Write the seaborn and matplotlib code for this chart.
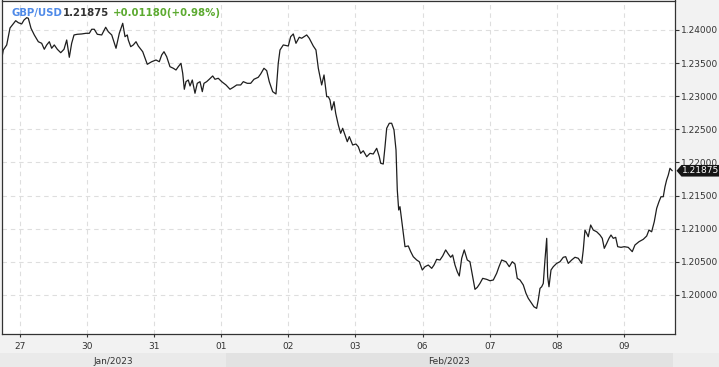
import numpy as np
import pandas as pd
import matplotlib
matplotlib.use("Agg")
import matplotlib.pyplot as plt
import seaborn as sns
from matplotlib.patches import Rectangle, Polygon
from matplotlib.transforms import blended_transform_factory, IdentityTransform

# ---------------- data ----------------
# position in trading days (0 = 27 Jan session, 1 = 30 Jan, ...)
day_pos = [
    -0.270, -0.249, -0.198, -0.149, -0.115, -0.064, -0.025, 0.025, 0.060, 0.100,
    0.124, 0.164, 0.213, 0.273, 0.323, 0.362, 0.398, 0.437, 0.472, 0.511,
    0.556, 0.607, 0.656, 0.696, 0.735, 0.770, 0.805, 0.854, 0.920, 0.984,
    1.033, 1.069, 1.107, 1.152, 1.218, 1.277, 1.316, 1.367, 1.431, 1.480,
    1.531, 1.565, 1.599, 1.614, 1.650, 1.688, 1.729, 1.763, 1.829, 1.897,
    1.963, 2.027, 2.076, 2.112, 2.146, 2.186, 2.235, 2.285, 2.325, 2.359,
    2.399, 2.425, 2.449, 2.474, 2.508, 2.534, 2.568, 2.608, 2.642, 2.683,
    2.717, 2.742, 2.782, 2.821, 2.872, 2.906, 2.955, 3.006, 3.070, 3.130,
    3.179, 3.230, 3.289, 3.328, 3.387, 3.438, 3.487, 3.551, 3.587, 3.636,
    3.677, 3.715, 3.766, 3.815, 3.849, 3.875, 3.924, 3.999, 4.034, 4.073,
    4.113, 4.162, 4.198, 4.273, 4.311, 4.371, 4.411, 4.446, 4.496, 4.531,
    4.571, 4.595, 4.620, 4.645, 4.680, 4.705, 4.744, 4.779, 4.809, 4.844,
    4.878, 4.908, 4.958, 5.007, 5.042, 5.077, 5.116, 5.167, 5.216, 5.265,
    5.316, 5.355, 5.376, 5.414, 5.440, 5.465, 5.504, 5.539, 5.574, 5.604,
    5.623, 5.644, 5.663, 5.703, 5.738, 5.787, 5.823, 5.861, 5.912, 5.951,
    5.996, 6.036, 6.085, 6.136, 6.170, 6.210, 6.259, 6.300, 6.344, 6.383,
    6.419, 6.448, 6.483, 6.517, 6.547, 6.583, 6.621, 6.666, 6.706, 6.747,
    6.781, 6.815, 6.855, 6.896, 6.955, 7.004, 7.054, 7.104, 7.139, 7.179,
    7.243, 7.292, 7.337, 7.377, 7.411, 7.452, 7.501, 7.541, 7.575, 7.626,
    7.660, 7.700, 7.724, 7.750, 7.775, 7.799, 7.824, 7.850, 7.864, 7.884,
    7.914, 7.948, 7.998, 8.048, 8.097, 8.133, 8.171, 8.222, 8.271, 8.320,
    8.371, 8.395, 8.420, 8.446, 8.469, 8.505, 8.544, 8.595, 8.644, 8.678,
    8.708, 8.744, 8.778, 8.808, 8.842, 8.878, 8.908, 8.957, 9.006, 9.065,
    9.125, 9.165, 9.225, 9.289, 9.340, 9.374, 9.414, 9.453, 9.489, 9.523,
    9.553, 9.587, 9.613, 9.637, 9.662, 9.687, 9.721,
]

price = [
    1.23577, 1.23698, 1.23774, 1.24030, 1.24075, 1.24140, 1.24110, 1.24091, 1.24151, 1.24186,
    1.24177, 1.24026, 1.23925, 1.23823, 1.23799, 1.23709, 1.23774, 1.23823, 1.23724, 1.23774,
    1.23709, 1.23657, 1.23709, 1.23849, 1.23588, 1.23799, 1.23925, 1.23935, 1.23940, 1.23950,
    1.23950, 1.24011, 1.24011, 1.23935, 1.23925, 1.24041, 1.23974, 1.23925, 1.23724, 1.23950,
    1.24101, 1.23899, 1.23925, 1.23849, 1.23748, 1.23774, 1.23823, 1.23758, 1.23672, 1.23482,
    1.23521, 1.23547, 1.23521, 1.23623, 1.23672, 1.23597, 1.23446, 1.23422, 1.23396, 1.23446,
    1.23497, 1.23346, 1.23105, 1.23220, 1.23245, 1.23155, 1.23245, 1.23045, 1.23195, 1.23220,
    1.23069, 1.23195, 1.23220, 1.23256, 1.23306, 1.23256, 1.23271, 1.23220, 1.23170, 1.23105,
    1.23135, 1.23170, 1.23170, 1.23220, 1.23195, 1.23195, 1.23256, 1.23286, 1.23336, 1.23422,
    1.23386, 1.23220, 1.23069, 1.23034, 1.23497, 1.23698, 1.23774, 1.23758, 1.23899, 1.23940,
    1.23799, 1.23890, 1.23875, 1.23925, 1.23875, 1.23758, 1.23698, 1.23422, 1.23170, 1.23321,
    1.22993, 1.22993, 1.22943, 1.22792, 1.22918, 1.22743, 1.22566, 1.22441, 1.22516, 1.22415,
    1.22314, 1.22390, 1.22264, 1.22279, 1.22238, 1.22138, 1.22177, 1.22087, 1.22138, 1.22128,
    1.22214, 1.22087, 1.21988, 1.21977, 1.22238, 1.22516, 1.22592, 1.22592, 1.22491, 1.22189,
    1.21585, 1.21283, 1.21333, 1.21006, 1.20729, 1.20740, 1.20654, 1.20578, 1.20528, 1.20502,
    1.20377, 1.20427, 1.20452, 1.20402, 1.20452, 1.20538, 1.20528, 1.20589, 1.20680, 1.20619,
    1.20569, 1.20604, 1.20452, 1.20351, 1.20287, 1.20554, 1.20680, 1.20528, 1.20502, 1.20276,
    1.20085, 1.20115, 1.20175, 1.20251, 1.20236, 1.20215, 1.20226, 1.20327, 1.20427, 1.20528,
    1.20502, 1.20427, 1.20502, 1.20467, 1.20251, 1.20226, 1.20151, 1.20025, 1.19950, 1.19873,
    1.19822, 1.19798, 1.19924, 1.20100, 1.20124, 1.20175, 1.20528, 1.20855, 1.20276, 1.20124,
    1.20377, 1.20427, 1.20477, 1.20502, 1.20569, 1.20578, 1.20477, 1.20528, 1.20569, 1.20554,
    1.20477, 1.20680, 1.20980, 1.20930, 1.20879, 1.21056, 1.20980, 1.20954, 1.20905, 1.20855,
    1.20704, 1.20779, 1.20855, 1.20905, 1.20855, 1.20870, 1.20729, 1.20719, 1.20729, 1.20719,
    1.20654, 1.20754, 1.20804, 1.20840, 1.20890, 1.20980, 1.20954, 1.21106, 1.21308, 1.21408,
    1.21483, 1.21483, 1.21634, 1.21735, 1.21810, 1.21912, 1.21875,
]

day_ticks = [0, 1, 2, 3, 4, 5, 6, 7, 8, 9]
day_labels = ["27", "30", "31", "01", "02", "03", "06", "07", "08", "09"]
price_ticks = [1.20, 1.205, 1.21, 1.215, 1.22, 1.225, 1.23, 1.235, 1.24]
month_names = ["Jan/2023", "Feb/2023"]
month_edges = [-0.30, 3.07, 9.73]

symbol = "GBP/USD"
last_price = 1.21875
change_text = "+0.01180(+0.98%)"

# ---------------- style ----------------
sns.set_style("white")
plt.rcParams["font.family"] = ["DejaVu Sans"]

W, H = 719, 367
fig = plt.figure(figsize=(W / 100, H / 100), dpi=100, facecolor="#f2f2f2")
ax = fig.add_axes([1.5 / W, 33 / H, 673.5 / W, 333.5 / H])
ax.set_facecolor("white")

df = pd.DataFrame({"t": day_pos, "p": price})
sns.lineplot(data=df, x="t", y="p", ax=ax, color="#1e1e1e", lw=0.9,
             sort=False, estimator=None)

ax.set_xlim(-0.2757, 9.762)
ax.set_ylim(1.19411, 1.24445)
ax.set_xlabel("")
ax.set_ylabel("")

ax.set_xticks(day_ticks)
ax.set_xticklabels(day_labels)
ax.set_yticks(price_ticks)
ax.set_yticklabels([f"{v:.5f}" for v in price_ticks])
ax.yaxis.tick_right()

ax.tick_params(axis="x", direction="out", length=2.5, width=0.8, pad=3,
               labelsize=6.5, colors="#333333", bottom=True)
ax.tick_params(axis="y", direction="out", length=3, width=0.8, pad=1.5,
               labelsize=6.5, colors="#333333", right=True, left=False)

ax.grid(True, color="#dedede", linestyle=(0, (4, 3.5)), lw=0.8)
for s in ax.spines.values():
    s.set_visible(True)
    s.set_color("#333333")
    s.set_linewidth(0.9)

# month strip
blend = blended_transform_factory(ax.transData, fig.transFigure)
strip_colors = ["#eaeaea", "#e2e2e2"]
for i, name in enumerate(month_names):
    x0, x1 = month_edges[i], month_edges[i + 1]
    r = Rectangle((x0, 0), x1 - x0, 14 / H, transform=blend,
                  facecolor=strip_colors[i], edgecolor="none", zorder=0)
    fig.add_artist(r)
    fig.text((x0 + x1) / 2, 5.5 / H, name, transform=blend, ha="center",
             va="center", fontsize=6.5, color="#333333")
r = Rectangle((month_edges[-1], 0), 20, 14 / H, transform=blend,
              facecolor="#ececec", edgecolor="none", zorder=0)
fig.add_artist(r)

# last price badge
yd = ax.transData.transform((0, last_price))[1]
xd = ax.transAxes.transform((1, 0))[0]
hh = 5.8
pts = [(xd + 1.5, yd), (xd + 6.5, yd + hh), (W + 2, yd + hh),
       (W + 2, yd - hh), (xd + 6.5, yd - hh)]
poly = Polygon(pts, closed=True, transform=IdentityTransform(),
               facecolor="#151515", edgecolor="none", zorder=5)
fig.add_artist(poly)
fx, fy = fig.transFigure.inverted().transform((xd + 7, yd))
fig.text(fx, fy, f"{last_price:.5f}", ha="left", va="center",
         fontsize=6.5, color="white", zorder=6)

# title
ty = 1 - 15.7 / H
fig.text(12 / W, ty, symbol, color="#4f8ae8", fontweight="bold",
         fontsize=7.3, va="baseline")
fig.text(63 / W, ty, f"{last_price:.5f}", color="#333333", fontweight="bold",
         fontsize=7.3, va="baseline")
fig.text(113 / W, ty, change_text, color="#5caa30", fontweight="bold",
         fontsize=7.3, va="baseline")

fig.savefig("out.png", dpi=100, facecolor=fig.get_facecolor())
